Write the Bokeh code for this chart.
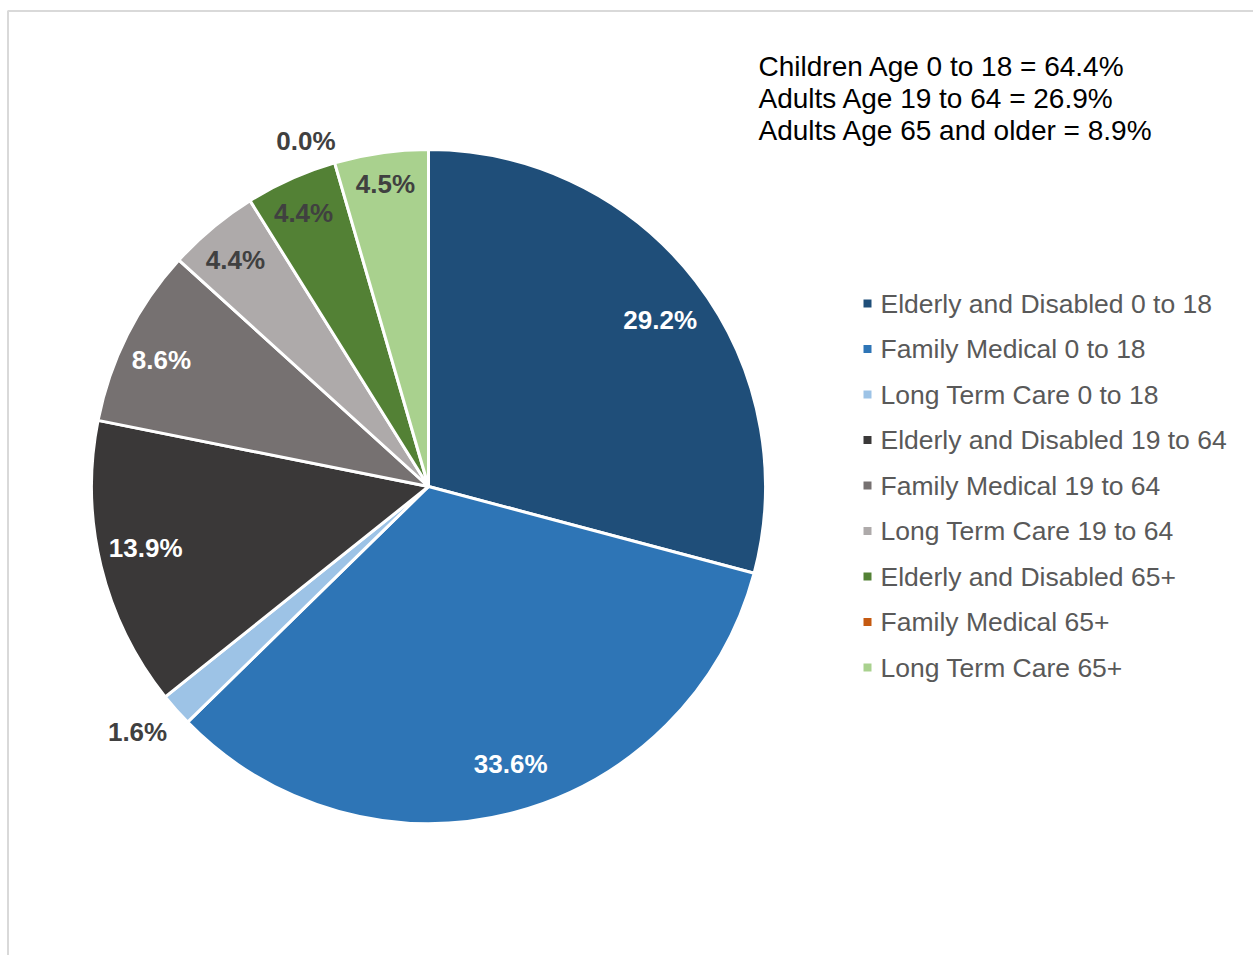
import math
from bokeh.plotting import figure
from bokeh.models import Range1d, ColumnDataSource
from bokeh.core.properties import value
from bokeh.embed import file_html
from bokeh.resources import INLINE

# ---- data ----
categories = [
    "Elderly and Disabled 0 to 18",
    "Family Medical 0 to 18",
    "Long Term Care 0 to 18",
    "Elderly and Disabled 19 to 64",
    "Family Medical 19 to 64",
    "Long Term Care 19 to 64",
    "Elderly and Disabled 65+",
    "Family Medical 65+",
    "Long Term Care 65+",
]
percents = [29.2, 33.6, 1.6, 13.9, 8.6, 4.4, 4.4, 0.0, 4.5]
summary_lines = [
    "Children Age 0 to 18 = 64.4%",
    "Adults Age 19 to 64 = 26.9%",
    "Adults Age 65 and older = 8.9%",
]

# ---- styles ----
colors = ["#1F4E79", "#2E75B6", "#9DC3E6", "#3A3838", "#767171",
          "#AEAAAA", "#538135", "#C55A11", "#A9D18E"]
label_colors = ["white", "white", "#404040", "white", "white",
                "#404040", "#404040", "#404040", "#404040"]
label_radius = [0.846, 0.858, 1.129, 0.859, 0.877, 0.884, 0.891, 1.087, 0.908]
label_nudge = [-0.033, 0.031, -0.024, -0.024, 0.024, 0.009, 0.009, 0.059, 0.0]

W, H = 1253, 955
CX, CY, R = 428, H - 486, 337

p = figure(width=W, height=H, output_backend="svg", toolbar_location=None,
           x_range=Range1d(0, W), y_range=Range1d(0, H), min_border=0)
p.axis.visible = False
p.grid.visible = False
p.outline_line_color = None
p.background_fill_color = "white"
p.border_fill_color = "white"

# chart area border
p.quad(left=[7.5], right=[W + 10], top=[H - 10.5], bottom=[-10],
       fill_color=None, line_color="#D9D9D9", line_width=2)

total = sum(percents)
ws = dict(start=[], end=[], color=[], x=[], y=[])
lx, ly = [], []
cum = 0.0
for i, v in enumerate(percents):
    a0 = math.pi / 2 - 2 * math.pi * (cum + v) / total
    a1 = math.pi / 2 - 2 * math.pi * cum / total
    if v > 0:
        ws["start"].append(a0)
        ws["end"].append(a1)
        ws["color"].append(colors[i])
        ws["x"].append(CX)
        ws["y"].append(CY)
    mid = (a0 + a1) / 2 + label_nudge[i]
    rr = R * label_radius[i]
    lx.append(CX + rr * math.cos(mid))
    ly.append(CY + rr * math.sin(mid))
    cum += v

src = ColumnDataSource(ws)
p.wedge(x="x", y="y", radius=R, start_angle="start", end_angle="end",
        fill_color="color", line_color="white", line_width=3, source=src)

labels = ["%.1f%%" % v for v in percents]
p.text(x=lx, y=ly, text=labels, text_color=label_colors,
       text_font=value("Liberation Sans"), text_font_style="bold",
       text_font_size="26px", text_align="center", text_baseline="middle")

# legend
leg_y = [H - (303 + i * 45.5) for i in range(len(categories))]
p.scatter(x=[867] * len(categories), y=leg_y, marker="square", size=8,
          fill_color=colors, line_color=None)
p.text(x=[880] * len(categories), y=leg_y, text=categories, text_color="#595959",
       text_font=value("Liberation Sans"), text_font_size="26.5px",
       text_align="left", text_baseline="middle")

# summary text
sy = [H - (66 + i * 32) for i in range(len(summary_lines))]
p.text(x=[758] * len(summary_lines), y=sy, text=summary_lines, text_color="black",
       text_font=value("Liberation Sans"), text_font_size="28px",
       text_align="left", text_baseline="middle")

open("out.html", "w").write(file_html(p, INLINE))
